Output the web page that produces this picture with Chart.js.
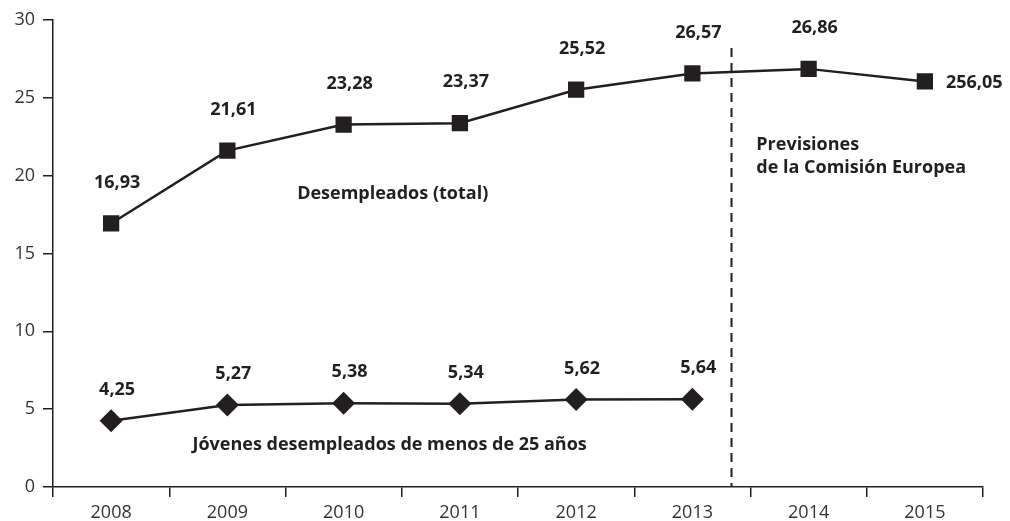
<!DOCTYPE html>
<html>
<head>
<meta charset="utf-8">
<script src="https://cdn.jsdelivr.net/npm/chart.js@4/dist/chart.umd.min.js"></script>
<style>
  html, body { margin: 0; padding: 0; background: #fff; }
</style>
</head>
<body>
<canvas id="paro-chart" width="1010" height="521"></canvas>
<script>
(function () {
  'use strict';

  const years = ['2008', '2009', '2010', '2011', '2012', '2013', '2014', '2015'];
  const totalValues = [16.93, 21.61, 23.28, 23.37, 25.52, 26.57, 26.86, 26.05];
  const totalLabels = ['16,93', '21,61', '23,28', '23,37', '25,52', '26,57', '26,86', '256,05'];
  const youthValues = [4.25, 5.27, 5.38, 5.34, 5.62, 5.64, null, null];
  const youthLabels = ['4,25', '5,27', '5,38', '5,34', '5,62', '5,64', '', ''];
  const yTicks = [0, 5, 10, 15, 20, 25, 30];

  const ink = '#231f20';
  const fontFamily = '"Open Sans", "DejaVu Sans", sans-serif';

  // value labels, series names and the forecast divider
  const annotations = {
    id: 'annotations',
    afterDatasetsDraw: function (chart) {
      const ctx = chart.ctx;
      const x = chart.scales.x;
      const y = chart.scales.y;
      ctx.save();
      ctx.fillStyle = ink;
      ctx.font = 'bold 18px ' + fontFamily;
      ctx.textBaseline = 'middle';

      // point values
      chart.data.datasets.forEach(function (ds, di) {
        const meta = chart.getDatasetMeta(di);
        meta.data.forEach(function (pt, i) {
          const txt = ds.valueLabels[i];
          if (!txt) return;
          if (di === 0 && i === ds.data.length - 1) {
            ctx.textAlign = 'left';
            ctx.fillText(txt, pt.x + 21, pt.y + 1);
          } else {
            ctx.textAlign = 'center';
            ctx.fillText(txt, pt.x + 6, pt.y + ds.labelOffset);
          }
        });
      });

      // series names
      ctx.textAlign = 'left';
      ctx.fillText('Desempleados (total)', x.getPixelForValue(1.6), y.getPixelForValue(18.8));
      ctx.fillText('Jóvenes desempleados de menos de 25 años', x.getPixelForValue(0.7), y.getPixelForValue(2.7));
      ctx.fillText('Previsiones', x.getPixelForValue(5.55), y.getPixelForValue(22.0));
      ctx.fillText('de la Comisión Europea', x.getPixelForValue(5.55), y.getPixelForValue(20.5));

      // dashed divider between data and forecast
      const dx = Math.round(x.getPixelForValue(5.33)) + 0.5;
      ctx.strokeStyle = ink;
      ctx.lineWidth = 2;
      ctx.setLineDash([9, 6]);
      ctx.beginPath();
      ctx.moveTo(dx, y.getPixelForValue(28.2));
      ctx.lineTo(dx, y.getPixelForValue(0));
      ctx.stroke();
      ctx.restore();
    }
  };

  new Chart(document.getElementById('paro-chart'), {
    type: 'line',
    data: {
      labels: years,
      datasets: [
        {
          label: 'Desempleados (total)',
          data: totalValues,
          valueLabels: totalLabels,
          labelOffset: -41,
          borderColor: ink,
          backgroundColor: ink,
          borderWidth: 2.5,
          pointStyle: 'rect',
          pointRadius: 11.5,
          pointBorderWidth: 0,
          tension: 0,
          fill: false
        },
        {
          label: 'Jóvenes desempleados de menos de 25 años',
          data: youthValues,
          valueLabels: youthLabels,
          labelOffset: -31,
          borderColor: ink,
          backgroundColor: ink,
          borderWidth: 2.5,
          pointStyle: 'rectRot',
          pointRadius: 11.5,
          pointBorderWidth: 0,
          tension: 0,
          fill: false,
          spanGaps: false
        }
      ]
    },
    options: {
      responsive: false,
      animation: false,
      layout: {
        padding: { top: 20, right: 27, left: 0, bottom: 0 }
      },
      scales: {
        x: {
          offset: true,
          afterFit: function (scale) { scale.height = 34; },
          border: { display: true, color: ink, width: 1.5 },
          grid: {
            offset: true,
            drawOnChartArea: false,
            drawTicks: true,
            tickLength: 10,
            color: ink,
            lineWidth: 1.5
          },
          ticks: {
            color: '#333',
            padding: 5,
            font: { family: fontFamily, size: 18 }
          }
        },
        y: {
          min: 0,
          max: 30,
          afterFit: function (scale) { scale.width = 53; },
          afterBuildTicks: function (scale) {
            scale.ticks = yTicks.map(function (v) { return { value: v }; });
          },
          border: { display: true, color: ink, width: 1.5 },
          grid: {
            drawOnChartArea: false,
            drawTicks: true,
            tickLength: 10,
            color: ink,
            lineWidth: 1.5
          },
          ticks: {
            color: '#333',
            padding: 8,
            font: { family: fontFamily, size: 18 }
          }
        }
      },
      plugins: {
        legend: { display: false },
        tooltip: { enabled: false }
      }
    },
    plugins: [annotations]
  });
})();
</script>
</body>
</html>
